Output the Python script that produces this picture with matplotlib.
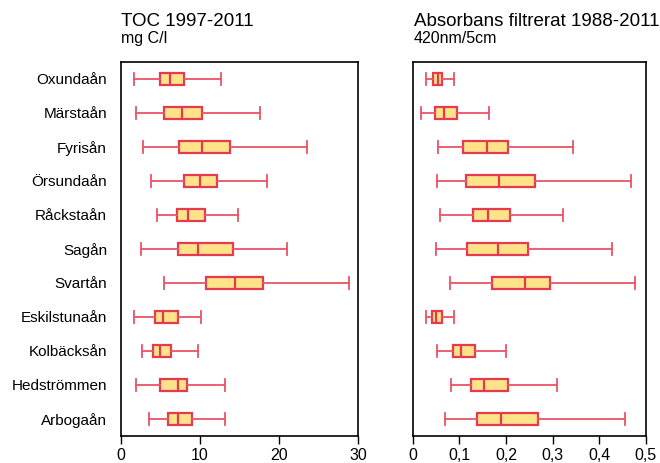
import matplotlib
matplotlib.use("Agg")
import matplotlib.pyplot as plt
from matplotlib.ticker import FuncFormatter

plt.rcParams['font.family'] = ['Liberation Sans', 'DejaVu Sans']

# --- data ---
rivers = ["Oxundaån", "Märstaån", "Fyrisån", "Örsundaån", "Råckstaån", "Sagån",
          "Svartån", "Eskilstunaån", "Kolbäcksån", "Hedströmmen", "Arbogaån"]

# TOC mg C/l: whisker low, q1, median, q3, whisker high
toc_lo = [1.6, 1.9, 2.8, 3.8, 4.6, 2.5, 5.4, 1.7, 2.6, 1.9, 3.5]
toc_q1 = [4.9, 5.5, 7.4, 8.0, 7.1, 7.2, 10.8, 4.3, 4.0, 4.9, 6.0]
toc_med = [6.2, 7.7, 10.3, 10.0, 8.5, 9.8, 14.4, 5.3, 5.0, 7.2, 7.2]
toc_q3 = [8.0, 10.3, 13.8, 12.2, 10.6, 14.2, 18.0, 7.2, 6.3, 8.4, 9.0]
toc_hi = [12.6, 17.6, 23.5, 18.5, 14.8, 21.0, 28.9, 10.1, 9.7, 13.2, 13.2]

# Absorbans filtrerat 420nm/5cm
abs_lo = [0.028, 0.017, 0.054, 0.052, 0.058, 0.049, 0.081, 0.029, 0.052, 0.082, 0.069]
abs_q1 = [0.044, 0.047, 0.107, 0.114, 0.129, 0.116, 0.171, 0.042, 0.086, 0.126, 0.137]
abs_med = [0.054, 0.068, 0.159, 0.186, 0.161, 0.183, 0.242, 0.051, 0.104, 0.154, 0.190]
abs_q3 = [0.062, 0.094, 0.204, 0.263, 0.209, 0.248, 0.295, 0.062, 0.134, 0.204, 0.268]
abs_hi = [0.089, 0.164, 0.343, 0.468, 0.323, 0.428, 0.476, 0.089, 0.201, 0.310, 0.456]

toc_ticks = [0, 10, 20, 30]
abs_ticks = [0, 0.1, 0.2, 0.3, 0.4, 0.5]

RED = '#E63B4E'
WHISK = '#EA5466'
FILL = '#FFE38A'


def make_stats(lo, q1, med, q3, hi):
    return [dict(whislo=a, q1=b, med=c, q3=d, whishi=e, fliers=[])
            for a, b, c, d, e in zip(lo, q1, med, q3, hi)]


def draw(ax, stats, xlim, ticks, fmt):
    pos = list(range(1, len(stats) + 1))
    ax.bxp(stats, positions=pos, vert=False, widths=0.37, patch_artist=True,
           showfliers=False,
           boxprops=dict(facecolor=FILL, edgecolor=RED, linewidth=1.6),
           medianprops=dict(color=RED, linewidth=1.6),
           whiskerprops=dict(color=WHISK, linewidth=1.3),
           capprops=dict(color=WHISK, linewidth=1.3),
           capwidths=0.37)
    ax.set_xlim(*xlim)
    ax.set_ylim(len(stats) + 0.5, 0.5)
    ax.set_xticks(ticks)
    ax.xaxis.set_major_formatter(FuncFormatter(fmt))
    ax.tick_params(axis='x', direction='out', length=6, width=1, labelsize=11.5, pad=3)
    ax.tick_params(axis='y', length=0)
    for s in ax.spines.values():
        s.set_linewidth(1.2)
        s.set_color('black')


fig = plt.figure(figsize=(6.6, 4.63), dpi=100)
ax1 = fig.add_axes([121 / 660, 27 / 463, 237 / 660, 374 / 463])
ax2 = fig.add_axes([412.7 / 660, 27 / 463, 233 / 660, 374 / 463])

draw(ax1, make_stats(toc_lo, toc_q1, toc_med, toc_q3, toc_hi), (0, 30), toc_ticks,
     lambda v, p: f"{v:g}")
ax1.set_yticks(range(1, len(rivers) + 1))
ax1.set_yticklabels(rivers, fontsize=11)
ax1.tick_params(axis='y', pad=10)

draw(ax2, make_stats(abs_lo, abs_q1, abs_med, abs_q3, abs_hi), (0, 0.5), abs_ticks,
     lambda v, p: f"{v:g}".replace('.', ','))
ax2.set_yticks([])

fig.text(121 / 660, 1 - 26 / 463, "TOC 1997-2011", fontsize=13.5, va='baseline')
fig.text(121 / 660, 1 - 43 / 463, "mg C/l", fontsize=11.5, va='baseline')
fig.text(414 / 660, 1 - 26 / 463, "Absorbans filtrerat 1988-2011", fontsize=13.5, va='baseline')
fig.text(414 / 660, 1 - 43 / 463, "420nm/5cm", fontsize=11.5, va='baseline')

fig.savefig("out.png", dpi=100)
